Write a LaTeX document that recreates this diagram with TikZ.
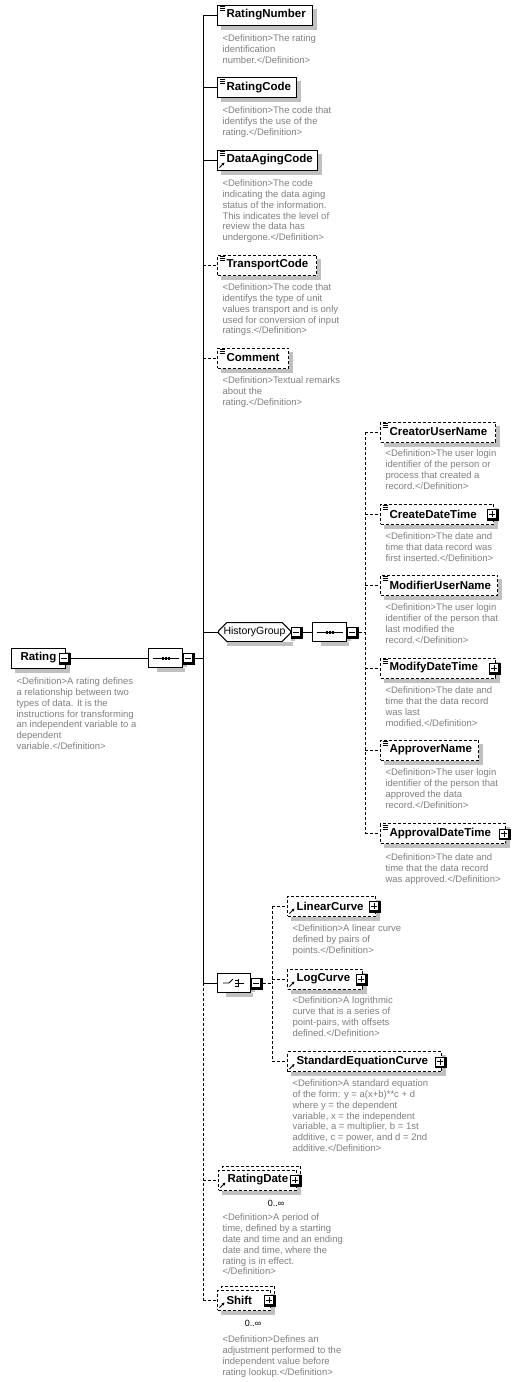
\documentclass[tikz,border=0pt]{standalone}
\usepackage{fontspec}
\setmainfont{Liberation Sans}
\usetikzlibrary{positioning, shapes.misc, arrows.meta, calc}

\definecolor{notegray}{RGB}{128,128,128}
\definecolor{shadowgray}{RGB}{192,192,192}

\tikzset{
  elem/.style={draw, fill=white, line width=1pt, font=\bfseries\fontsize{11.5}{13}\selectfont,
    inner xsep=9pt, inner ysep=0pt, minimum height=20pt, text width=#1, align=left, anchor=west},
  optelem/.style={elem=#1, dash pattern=on 3pt off 2pt},
  simple/.style={path picture={
    \foreach \d in {1.5,3.5,5.5}
      \draw[solid, line width=0.8pt] ([xshift=2pt,yshift=-\d pt]path picture bounding box.north west) -- ++(5pt,0pt);}},
  refd/.style={path picture={
    \draw[solid, line width=0.8pt, -{Stealth[length=3pt,width=3pt]}] ([xshift=2pt,yshift=2.5pt]path picture bounding box.south west) -- ++(5pt,5pt);}},
  simpleref/.style={path picture={
    \foreach \d in {1.5,3.5,5.5}
      \draw[solid, line width=0.8pt] ([xshift=2pt,yshift=-\d pt]path picture bounding box.north west) -- ++(5pt,0pt);
    \draw[solid, line width=0.8pt, -{Stealth[length=3pt,width=3pt]}] ([xshift=2pt,yshift=2.5pt]path picture bounding box.south west) -- ++(5pt,5pt);}},
  % button: black node with a white square at its upper left, so the black is its shadow
  btn/.style={fill=black, draw=none, solid, minimum size=11.5pt, inner sep=0pt, outer sep=0pt},
  minus/.style={btn, path picture={
    \draw[fill=white, line width=1pt] ([xshift=0.5pt,yshift=-0.5pt]path picture bounding box.north west)
      rectangle ([xshift=-2pt,yshift=2pt]path picture bounding box.south east);
    \draw[line width=1pt] ([xshift=-3.75pt,yshift=0.75pt]path picture bounding box.center) -- ([xshift=2.25pt,yshift=0.75pt]path picture bounding box.center);}},
  plus/.style={btn, path picture={
    \draw[fill=white, line width=1pt] ([xshift=0.5pt,yshift=-0.5pt]path picture bounding box.north west)
      rectangle ([xshift=-2pt,yshift=2pt]path picture bounding box.south east);
    \draw[line width=1pt] ([xshift=-3.75pt,yshift=0.75pt]path picture bounding box.center) -- ([xshift=2.25pt,yshift=0.75pt]path picture bounding box.center);
    \draw[line width=1pt] ([xshift=-0.75pt,yshift=3.75pt]path picture bounding box.center) -- ([xshift=-0.75pt,yshift=-2.25pt]path picture bounding box.center);}},
  comp/.style={chamfered rectangle, chamfered rectangle xsep=5pt, draw, fill=white, line width=1pt,
    minimum height=19pt, inner sep=0pt, anchor=west},
  seq/.style={comp, minimum width=34pt, path picture={
    \draw[line width=1pt] ([xshift=4pt]path picture bounding box.west) -- ([xshift=-4pt]path picture bounding box.east);
    \draw[line width=3pt, dash pattern=on 2pt off 1pt] ([xshift=-4pt]path picture bounding box.center) -- ([xshift=4.5pt]path picture bounding box.center);}},
  choice/.style={comp, minimum width=33pt, path picture={
    \begin{scope}[shift={(path picture bounding box.center)}, line width=0.9pt]
      \draw (-11pt,0pt) -- (-5pt,0pt) -- (-1pt,4pt);
      \foreach \d in {-3,0,3}
        \draw (1pt,\d pt) -- (4pt,\d pt);
      \draw (4pt,-4pt) -- (4pt,4pt);
      \draw (4pt,0pt) -- (10pt,0pt);
    \end{scope}}},
  note/.style={anchor=north west, inner sep=0pt, align=left, text=notegray,
    font=\fontsize{9.5}{10.9}\selectfont},
  occ/.style={inner sep=0pt, font=\fontsize{9}{11}\selectfont},
  opt/.style={dash pattern=on 3pt off 2pt},
  band/.style={fill=shadowgray, draw=none, inner sep=0pt, outer sep=0pt, anchor=north west}
}

\begin{document}
\begin{tikzpicture}[x=1pt,y=-1pt, line width=1pt]
  \useasboundingbox (0,0) rectangle (516,1382);

  % root element and its sequence
  \node[elem=36pt] (rating) at (11,658) {Rating};
  \node[note] (ratingD) at (16,677) {<Definition>A rating defines\\a relationship between two\\types of data. It is the\\instructions for transforming\\an independent variable to a\\dependent\\variable.</Definition>};

  \node[seq] (mseq) at (148,658) {};

  % children of the sequence
  \node[elem=77pt, simple] (rnum) at (217,15) {RatingNumber};
  \node[note] (rnumD) at (222,34) {<Definition>The rating\\identification\\number.</Definition>};

  \node[elem=61pt, simple] (rcode) at (217,87.5) {RatingCode};
  \node[note] (rcodeD) at (222,106) {<Definition>The code that\\identifys the use of the\\rating.</Definition>};

  \node[elem=82pt, simpleref] (dage) at (217,160) {DataAgingCode};
  \node[note] (dageD) at (222,179) {<Definition>The code\\indicating the data aging\\status of the information.\\This indicates the level of\\review the data has\\undergone.</Definition>};

  \node[optelem=81pt, simple] (tcode) at (217,265) {TransportCode};
  \node[note] (tcodeD) at (222,283) {<Definition>The code that\\identifys the type of unit\\values transport and is only\\used for conversion of input\\ratings.</Definition>};

  \node[optelem=53pt, simple] (comm) at (217,358) {Comment};
  \node[note] (commD) at (222,376) {<Definition>Textual remarks\\about the\\rating.</Definition>};

  % history group
  \node[comp, minimum width=72pt, font=\fontsize{10.5}{12}\selectfont] (hist) at (218,632) {HistoryGroup};
  \node[seq] (hseq) at (312,632) {};

  \node[optelem=97pt, simple] (creu) at (380,432) {CreatorUserName};
  \node[note] (creuD) at (385,449) {<Definition>The user login\\identifier of the person or\\process that created a\\record.</Definition>};

  \node[optelem=95pt, simple] (crdt) at (380,514) {CreateDateTime};
  \node[note] (crdtD) at (385,532) {<Definition>The date and\\time that data record was\\first inserted.</Definition>};

  \node[optelem=99pt, simple] (modu) at (380,585) {ModifierUserName};
  \node[note] (moduD) at (385,603) {<Definition>The user login\\identifier of the person that\\last modified the\\record.</Definition>};

  \node[optelem=97pt, simple] (modt) at (380,668) {ModifyDateTime};
  \node[note] (modtD) at (385,686) {<Definition>The date and\\time that the data record\\was last\\modified.</Definition>};

  \node[optelem=80pt, simple] (apnm) at (380,750) {ApproverName};
  \node[note] (apnmD) at (385,768) {<Definition>The user login\\identifier of the person that\\approved the data\\record.</Definition>};

  \node[optelem=107pt, simple] (apdt) at (380,833.5) {ApprovalDateTime};
  \node[note] (apdtD) at (385,853) {<Definition>The date and\\time that the data record\\was approved.</Definition>};

  % choice of curves
  \node[choice] (chc) at (217,983) {};

  \node[optelem=70pt, refd] (lin) at (287,906) {LinearCurve};
  \node[note] (linD) at (292,924) {<Definition>A linear curve\\defined by pairs of\\points.</Definition>};

  \node[optelem=57pt, refd] (logc) at (287,979) {LogCurve};
  \node[note] (logcD) at (292,996) {<Definition>A logrithmic\\curve that is a series of\\point-pairs, with offsets\\defined.</Definition>};

  \node[optelem=136pt, refd] (steq) at (287,1061.5) {StandardEquationCurve};
  \node[note] (steqD) at (292,1079) {<Definition>A standard equation\\of the form: y = a(x+b)**c + d\\where y = the dependent\\variable, x = the independent\\variable, a = multiplier, b = 1st\\additive, c = power, and d = 2nd\\additive.</Definition>};

  % repeated elements
  \node[optelem=60pt] (rdateBk) at (222,1176) {\phantom{RatingDate}};
  \node[optelem=60pt, refd] (rdate) at (218,1180) {RatingDate};
  \node[occ] (rdateO) at (276,1203) {0..∞};
  \node[note] (rdateD) at (222,1213) {<Definition>A period of\\time, defined by a starting\\date and time and an ending\\date and time, where the\\rating is in effect.\\</Definition>};

  \node[optelem=35pt] (shftBk) at (221,1296) {\phantom{Shift}};
  \node[optelem=35pt, refd] (shft) at (217,1300) {Shift};
  \node[occ] (shftO) at (253,1323) {0..∞};
  \node[note] (shftD) at (222,1335) {<Definition>Defines an\\adjustment performed to the\\independent value before\\rating lookup.</Definition>};

  % grey shadow bands right of and below each box: name / left / text width / centre
  \foreach \nm/\lx/\tw/\cy in {rating/11/36/658, rnum/217/77/15, rcode/217/61/87.5, dage/217/82/160,
      tcode/217/81/265, comm/217/53/358, creu/380/97/432, crdt/380/95/514, modu/380/99/585,
      modt/380/97/668, apnm/380/80/750, apdt/380/107/833.5, lin/287/70/906, logc/287/57/979,
      steq/287/136/1061.5, rdate/218/60/1180, shft/217/35/1300} {
    \node[band, minimum width=4pt, minimum height=21pt] (\nm R) at (\lx+\tw+19,\cy-6.5) {};
    \node[band, minimum width=\tw pt+15pt, minimum height=4pt] (\nm U) at (\lx+4,\cy+10.5) {};
  }
  % and for the compositors: name / left / width / centre
  \foreach \nm/\lx/\tw/\cy in {mseq/148/34/658, hist/218/72/632, hseq/312/34/632, chc/217/33/983} {
    \node[band, minimum width=4pt, minimum height=10pt] (\nm R) at (\lx+\tw+0.5,\cy-1) {};
    \node[band, minimum width=\tw pt-6pt, minimum height=4pt] (\nm U) at (\lx+9,\cy+10) {};
  }

  % expand / collapse buttons
  \node[minus] (ratingB) at ([xshift=-1.25pt,yshift=-0.75pt]rating.east) {};
  \node[minus] (mseqB) at ([xshift=5.75pt,yshift=-0.75pt]mseq.east) {};
  \node[minus] (histB) at ([xshift=5.75pt,yshift=-0.75pt]hist.east) {};
  \node[minus] (hseqB) at ([xshift=5.75pt,yshift=-0.75pt]hseq.east) {};
  \node[minus] (chcB) at ([xshift=5.75pt,yshift=-0.75pt]chc.east) {};
  \foreach \nm in {crdt, modt, apdt, lin, logc, steq, rdate, shft}
    \node[plus] (\nm B) at ([xshift=-1.25pt,yshift=-0.75pt]\nm.east) {};

  % sequence links
  \draw (ratingB.east |- rating.east) -- (mseq.west);
  \draw (histB.east |- hist.east) -- (hseq.west);

  % main spine
  \coordinate (mspine) at (203,658);
  \draw (mseqB.east |- mseq.east) -- (mspine);
  \draw (mspine |- rnum.west) -- (mspine |- chc.west);
  \draw[opt] (mspine |- chc.west) -- (mspine |- shft.west);
  \foreach \n in {rnum, rcode, dage, hist, chc}
    \draw (mspine |- \n.west) -- (\n.west);
  \foreach \n in {tcode, comm, rdate, shft}
    \draw[opt] (mspine |- \n.west) -- (\n.west);

  % history spine
  \coordinate (hspine) at (365,632);
  \draw[opt] (hseqB.east |- hseq.east) -- (hspine);
  \draw[opt] (hspine |- creu.west) -- (hspine |- apdt.west);
  \foreach \n in {creu, crdt, modu, modt, apnm, apdt}
    \draw[opt] (hspine |- \n.west) -- (\n.west);

  % choice spine
  \coordinate (cspine) at (272,983);
  \draw[opt] (chcB.east |- chc.east) -- (cspine);
  \draw[opt] (cspine |- lin.west) -- (cspine |- steq.west);
  \foreach \n in {lin, logc, steq}
    \draw[opt] (cspine |- \n.west) -- (\n.west);
\end{tikzpicture}
\end{document}
